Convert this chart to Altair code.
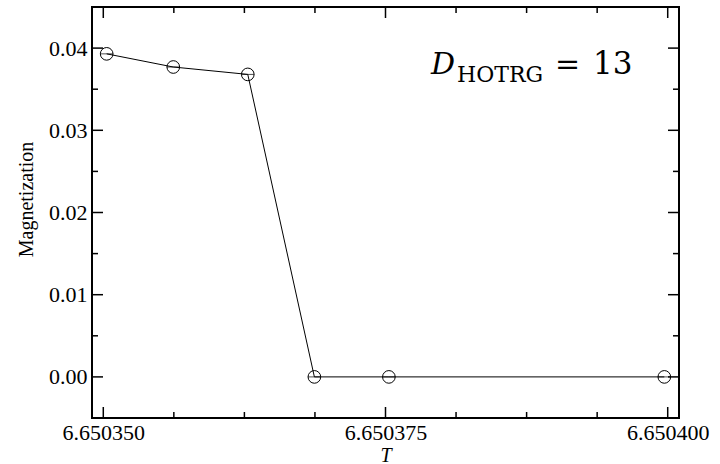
import altair as alt
import pandas as pd

# ---- data ----
T_vals = [6.6503503, 6.6503562, 6.6503628, 6.6503687, 6.6503753, 6.6503997]
M_vals = [0.0393, 0.0377, 0.0368, 0.0, 0.0, 0.0]

x_major = [6.650350, 6.650375, 6.650400]
x_minor = [6.65035625, 6.6503625, 6.65036875, 6.65038125, 6.6503875, 6.65039375]
y_major = [0.00, 0.01, 0.02, 0.03, 0.04]
y_minor = [0.005, 0.015, 0.025, 0.035]
x_domain = [6.650349, 6.650401]
y_domain = [-0.005, 0.045]

x_title = "T"
y_title = "Magnetization"
ann_main = "D"
ann_sub = "HOTRG"
ann_eq = "="
ann_num = "13"

W, H = 587, 411
SERIF = "Liberation Serif"

xscale = alt.Scale(domain=x_domain, nice=False, zero=False)
yscale = alt.Scale(domain=y_domain, nice=False, zero=False)


def X():
    return alt.X("T:Q", scale=xscale, title=x_title,
                 axis=alt.Axis(values=x_major, format=".6f", title=x_title))


def Y():
    return alt.Y("M:Q", scale=yscale, title=y_title,
                 axis=alt.Axis(values=y_major, format=".2f", title=y_title))


df = pd.DataFrame({"T": T_vals, "M": M_vals})
base = alt.Chart(df)

line = base.mark_line(color="black", strokeWidth=1).encode(x=X(), y=Y())

points = base.mark_point(shape="circle", filled=False, size=160, color="black",
                         strokeWidth=1, opacity=1).encode(x=X(), y=Y())

bars = base.mark_tick(orient="horizontal", size=13, thickness=1,
                      color="black").encode(x=X(), y=Y())


def xticks(vals, length, top):
    d = pd.DataFrame({"T": vals})
    y0 = 0 if top else H
    y1 = length if top else H - length
    return alt.Chart(d).mark_rule(color="black", strokeWidth=1.5).encode(
        x=X(), y=alt.value(y0), y2=alt.value(y1))


def yticks(vals, length, right):
    d = pd.DataFrame({"M": vals})
    x0 = W if right else 0
    x1 = W - length if right else length
    return alt.Chart(d).mark_rule(color="black", strokeWidth=1.5).encode(
        y=Y(), x=alt.value(x0), x2=alt.value(x1))


tick_layers = [
    xticks(x_major, 11, False), xticks(x_minor, 6, False),
    xticks(x_major, 11, True), xticks(x_minor, 6, True),
    yticks(y_major, 11, False), yticks(y_minor, 6, False),
    yticks(y_major, 11, True), yticks(y_minor, 6, True),
]

one = pd.DataFrame({"a": [0]})


def txt(s, x, y, size, style="normal"):
    return alt.Chart(one).mark_text(font="DejaVu Serif", fontSize=size, fontStyle=style,
                                    align="left", baseline="alphabetic",
                                    color="black").encode(
        x=alt.value(x), y=alt.value(y), text=alt.value(s))


ann = [
    txt(ann_main, 339, 67, 30, "italic"),
    txt(ann_sub, 365, 75, 22),
    txt(ann_eq, 463, 67, 30),
    txt(ann_num, 501, 67, 31),
]

chart = alt.layer(line, points, bars, *tick_layers, *ann).properties(
    width=W, height=H,
    autosize=alt.AutoSizeParams(type="none"),
    padding={"left": 92, "top": 7, "right": 720 - 92 - W, "bottom": 464 - 7 - H},
    background="white",
).configure_view(
    stroke="black", strokeWidth=2
).configure_axis(
    ticks=False, tickSize=0, domain=False, grid=False,
    labelFlush=False, labelOverlap=False, labelBound=False,
    labelFont=SERIF, labelFontSize=22, labelColor="black",
    titleFont=SERIF, titleFontSize=20, titleFontWeight="normal", titleColor="black",
).configure_axisX(
    labelPadding=4, titlePadding=2, titleFontStyle="italic",
).configure_axisY(
    labelPadding=5, titleX=-66, titleY=192, titleAngle=270,
    titleAlign="center", titleBaseline="middle",
)

chart.save("out.html", embed_options={"renderer": "svg", "actions": False})
